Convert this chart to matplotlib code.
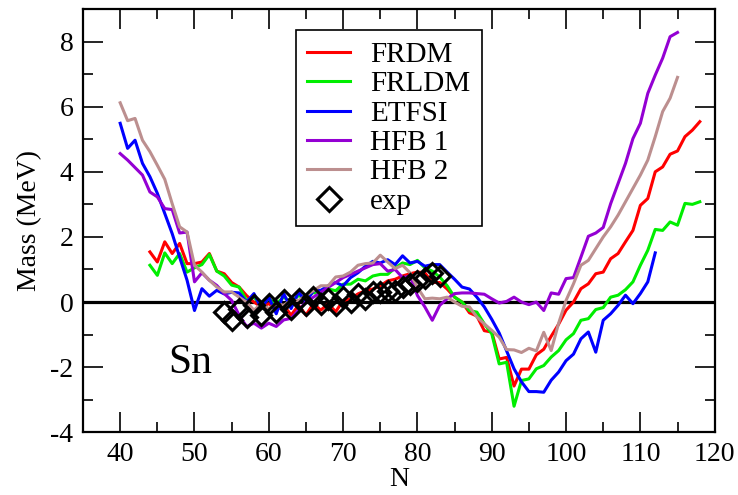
import matplotlib
matplotlib.use("Agg")
import matplotlib.pyplot as plt
import numpy as np
from matplotlib.ticker import MultipleLocator

plt.rcParams['font.family'] = ['Liberation Serif', 'DejaVu Serif']

# ---------------- data ----------------
N_frdm = list(range(44, 119))
frdm = [1.54, 1.23, 1.85, 1.49, 1.80, 1.18, 1.18, 1.23, 1.49, 0.95,
        0.87, 0.60, 0.46, 0.20, 0.00, -0.15, -0.05, -0.20, -0.10, -0.40,
        -0.10, -0.40, -0.05, -0.25, -0.05, -0.30, 0.05, 0.10, 0.25, 0.35,
        0.40, 0.50, 0.65, 0.70, 0.80, 0.87, 0.92, 0.90, 0.60, 0.60,
        0.40, 0.15, 0.00, -0.33, -0.43, -0.88, -0.92, -1.75, -1.70, -2.58,
        -2.06, -2.06, -1.62, -1.45, -1.05, -0.68, -0.25, 0.00, 0.41, 0.56,
        0.87, 0.92, 1.33, 1.49, 1.85, 2.20, 2.97, 3.18, 4.00, 4.15,
        4.54, 4.64, 5.08, 5.28, 5.54]

N_frldm = list(range(44, 119))
frldm = [1.13, 0.82, 1.51, 1.18, 1.49, 0.92, 1.05, 1.15, 1.46, 0.95,
         0.80, 0.52, 0.46, 0.05, 0.15, -0.10, 0.10, -0.05, 0.15, 0.00,
         0.20, 0.10, 0.30, 0.20, 0.40, 0.35, 0.55, 0.55, 0.70, 0.65,
         0.80, 0.85, 0.85, 1.05, 1.20, 1.15, 1.28, 1.05, 0.95, 0.77,
         0.50, 0.15, 0.00, -0.26, -0.31, -0.67, -0.97, -1.90, -1.85, -3.20,
         -2.41, -2.36, -2.05, -1.95, -1.69, -1.49, -1.16, -0.97, -0.56, -0.51,
         -0.23, -0.17, 0.15, 0.21, 0.38, 0.62, 1.13, 1.59, 2.23, 2.20,
         2.46, 2.36, 3.03, 3.00, 3.08]

N_etfsi = list(range(40, 113))
etfsi = [5.49, 4.72, 4.97, 4.26, 3.85, 3.34, 2.72, 2.10, 1.38, 0.67,
         -0.26, 0.41, 0.18, 0.36, 0.25, 0.30, 0.28, 0.00, 0.26, -0.20,
         0.15, -0.36, 0.26, -0.20, 0.31, 0.00, 0.35, 0.36, 0.50, 0.60,
         0.50, 0.75, 0.90, 1.10, 1.25, 1.20, 1.30, 1.15, 1.42, 1.20,
         1.25, 1.10, 1.15, 1.15, 0.92, 0.70, 0.46, 0.40, 0.15, -0.15,
         -0.53, -0.95, -1.50, -2.05, -2.45, -2.75, -2.75, -2.77, -2.40, -2.15,
         -1.80, -1.60, -1.13, -0.92, -1.54, -0.56, -0.36, -0.10, 0.21, -0.05,
         0.26, 0.62, 1.51]

N_hfb1 = list(range(40, 116))
hfb1 = [4.56, 4.36, 4.13, 3.90, 3.38, 3.23, 2.87, 2.84, 2.12, 2.15,
        0.62, 0.90, 0.67, 0.51, 0.26, 0.05, -0.40, -0.75, -0.65, -0.80,
        -0.65, -0.75, -0.55, -0.50, -0.25, 0.00, 0.15, 0.30, 0.45, 0.60,
        0.75, 0.85, 0.95, 1.05, 1.15, 1.18, 0.95, 1.00, 0.75, 0.80,
        0.20, -0.15, -0.56, -0.10, 0.10, 0.26, 0.28, 0.28, 0.26, 0.24,
        0.10, -0.03, 0.02, 0.15, 0.00, -0.08, 0.00, -0.26, 0.28, 0.24,
        0.72, 0.75, 1.38, 2.02, 2.12, 2.29, 3.02, 3.64, 4.26, 5.02,
        5.49, 6.41, 6.97, 7.49, 8.15, 8.28]

N_hfb2 = list(range(40, 116))
hfb2 = [6.12, 5.57, 5.64, 4.97, 4.62, 4.20, 3.77, 3.02, 2.31, 2.15,
        1.13, 0.92, 0.67, 0.46, 0.31, 0.31, 0.15, 0.00, -0.25, -0.05,
        -0.20, -0.05, -0.10, 0.05, 0.05, 0.20, 0.35, 0.50, 0.50, 0.77,
        0.80, 0.92, 1.13, 1.18, 1.20, 1.44, 1.23, 1.03, 1.13, 0.90,
        0.45, 0.10, 0.12, 0.10, 0.15, 0.00, -0.13, -0.15, -0.46, -0.67,
        -0.87, -1.08, -1.46, -1.47, -1.55, -1.42, -1.50, -0.93, -1.49, -0.65,
        0.05, 0.56, 1.13, 1.28, 1.64, 2.00, 2.31, 2.67, 3.08, 3.49,
        3.90, 4.36, 5.08, 5.85, 6.26, 6.90]

N_exp = list(range(54, 84))
exp = [-0.30, -0.55, -0.20, -0.45, -0.10, -0.40, -0.05, -0.30, 0.05, -0.20,
       0.10, -0.10, 0.15, -0.05, 0.10, -0.10, 0.15, 0.00, 0.25, 0.10,
       0.30, 0.30, 0.35, 0.35, 0.45, 0.55, 0.65, 0.75, 0.90, 0.80]

series_labels = ["FRDM", "FRLDM", "ETFSI", "HFB 1", "HFB 2"]
series_colors = ["#ff0000", "#00ee00", "#0000ff", "#9400d3", "#bc8f8f"]

# ---------------- figure ----------------
fig = plt.figure(figsize=(7.38, 4.95), dpi=100)
ax = fig.add_axes([0.1125, 0.1267, 0.8559, 0.8551])

ax.axhline(0, color="black", lw=2.3, zorder=1)

for (xs, ys), lab, col in zip([(N_frdm, frdm), (N_frldm, frldm), (N_etfsi, etfsi),
                               (N_hfb1, hfb1), (N_hfb2, hfb2)],
                              series_labels, series_colors):
    ax.plot(xs, ys, color=col, lw=2.2, label=lab, zorder=2)

ax.plot(N_exp, exp, linestyle="none", marker="D", markersize=10.5,
        markerfacecolor="none", markeredgecolor="black", markeredgewidth=2.2,
        label="exp", zorder=3)

ax.set_xlim(35, 120)
ax.set_ylim(-4, 9)
ax.xaxis.set_major_locator(MultipleLocator(10))
ax.xaxis.set_minor_locator(MultipleLocator(5))
ax.yaxis.set_minor_locator(MultipleLocator(1))
ax.set_yticks([-4, -2, 0, 2, 4, 6, 8])
ax.set_yticklabels(["-4", "-2", "0", "2", "4", "6", "8"])

ax.tick_params(which="both", direction="in", top=True, right=True,
               labelsize=20, width=1.2)
ax.tick_params(which="major", length=14.5, pad=7)
ax.tick_params(which="minor", length=7.5)
for sp in ax.spines.values():
    sp.set_linewidth(1.6)

ax.set_xlabel("N", fontsize=20, labelpad=0)
ax.set_ylabel("Mass (MeV)", fontsize=20, labelpad=6)

ax.text(49.4, -1.86, "Sn", fontsize=30, ha="center", va="center")

leg = ax.legend(loc="upper left", bbox_to_anchor=(0.3367, 0.9504),
                borderaxespad=0, fontsize=21, frameon=True, fancybox=False,
                edgecolor="black", handlelength=1.45, handletextpad=0.7,
                labelspacing=0.1, borderpad=0.4, numpoints=1)
leg.get_frame().set_linewidth(1.2)
leg.get_frame().set_facecolor("white")
leg.get_frame().set_alpha(1)
for h in leg.legend_handles:
    if hasattr(h, "set_markersize"):
        h.set_markersize(12)

fig.savefig("out.png", dpi=100)
